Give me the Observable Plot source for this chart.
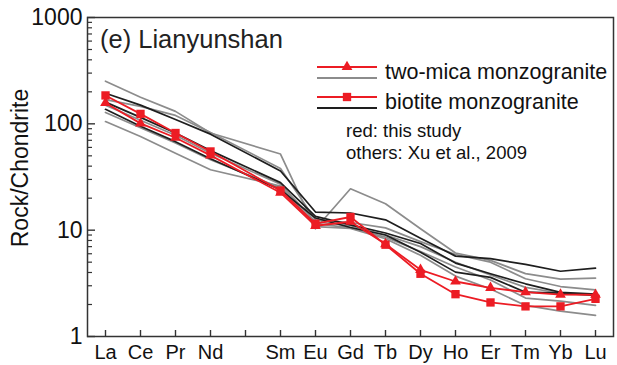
<!DOCTYPE html>
<html><head><meta charset="utf-8">
<script src="https://cdn.jsdelivr.net/npm/d3@7"></script>
<script src="https://cdn.jsdelivr.net/npm/@observablehq/plot@0.6"></script>
<style>
body{margin:0;background:#fff;}
#chart svg{display:block;}
</style>
</head><body><div id="chart"></div>
<script>
// REE elements (Pm is an empty slot on the axis)
const elements = ["La","Ce","Pr","Nd","Sm","Eu","Gd","Tb","Dy","Ho","Er","Tm","Yb","Lu"];
const axisSlots = ["La","Ce","Pr","Nd","Pm","Sm","Eu","Gd","Tb","Dy","Ho","Er","Tm","Yb","Lu"];
const yTickValues = [1, 10, 100, 1000];

// this study (red)
const twoMicaThisStudy = [157, 101, 74, 50.5, 22.5, 11.0, 12.0, 7.4, 4.24, 3.29, 2.87, 2.61, 2.48, 2.47];
const biotiteThisStudy = [185, 124, 82, 55, 23.6, 11.5, 13.3, 7.3, 3.89, 2.5, 2.09, 1.92, 1.92, 2.26];

// Xu et al., 2009 – two-mica monzogranite (gray)
const xuTwoMica1 = [252, 178, 131, 82, 52, 10.3, 24.5, 17.7, 10.3, 6.1, 5.2, 3.9, 3.46, 3.54];
const xuTwoMica2 = [169, 146, 120, 83, 38, 12.5, 11.8, 10.5, 7.8, 5.9, 5.0, 3.49, 2.95, 2.75];
const xuTwoMica3 = [150, 108, 78, 53, 27, 12.0, 11.0, 9.0, 7.0, 5.0, 3.8, 2.9, 2.55, 2.5];
const xuTwoMica4 = [128, 92, 66, 46, 25, 11.5, 10.5, 8.6, 6.3, 4.5, 3.4, 2.3, 2.15, 1.96];
const xuTwoMica5 = [105, 76, 53, 37, 26, 10.8, 10.4, 8.3, 5.8, 3.7, 2.8, 1.96, 1.73, 1.58];

// Xu et al., 2009 – biotite monzogranite (black)
const xuBiotite1 = [194, 150, 110, 80, 36, 14.8, 14.5, 12.5, 8.4, 5.7, 5.4, 4.76, 4.11, 4.39];
const xuBiotite2 = [137, 95, 68, 47, 24, 13.0, 10.6, 9.0, 6.2, 4.03, 3.6, 2.61, 2.56, 2.43];
const xuBiotite3 = [160, 115, 82, 56, 28, 13.5, 11.2, 9.4, 7.5, 4.9, 3.89, 3.13, 2.6, 2.5];

const toRows = (arrs) => arrs.flatMap((vals, i) => vals.map((v, j) => ({id: i, el: elements[j], v})));
const grayRows = toRows([xuTwoMica1, xuTwoMica2, xuTwoMica3, xuTwoMica4, xuTwoMica5]);
const blackRows = toRows([xuBiotite1, xuBiotite2, xuBiotite3]);
const triRows = toRows([twoMicaThisStudy]);
const sqRows = toRows([biotiteThisStudy]);

const W = 617, H = 365, mL = 87, mR = 4, mT = 17, mB = 29;
const plotW = W - mL - mR, plotH = H - mT - mB;
const FONT = "'Liberation Sans', Arial, Helvetica, sans-serif";
const RED = "#ec1c24", GRAY = "#8c8c8c", BLACK = "#1e1e1e", AXIS = "#333";
const minorTicks = [1, 10, 100].flatMap(d => d3.range(2, 10).map(m => m * d));

const chart = Plot.plot({
  width: W, height: H,
  marginLeft: mL, marginRight: mR, marginTop: mT, marginBottom: mB,
  style: {fontFamily: FONT, background: "#fff", color: "#111"},
  x: {type: "point", domain: axisSlots, padding: 0.5},
  y: {type: "log", domain: [1, 1000]},
  marks: [
    Plot.axisX({tickSize: 0, tickPadding: 8, fontSize: 20, label: null,
      tickFormat: d => d === "Pm" ? "" : d}),
    Plot.axisY({ticks: yTickValues, tickSize: 0, tickPadding: 5, fontSize: 23, label: null,
      tickFormat: d => String(d)}),
    Plot.ruleX(axisSlots, {x: d => d, insetTop: plotH - 6, stroke: AXIS, strokeWidth: 1.4}),
    Plot.ruleY(minorTicks, {y: d => d, insetRight: plotW - 5, stroke: AXIS, strokeWidth: 1.2}),
    Plot.ruleY(yTickValues, {y: d => d, insetRight: plotW - 8, stroke: AXIS, strokeWidth: 1.4}),
    Plot.line(grayRows, {x: "el", y: "v", z: "id", stroke: GRAY, strokeWidth: 1.7}),
    Plot.line(blackRows, {x: "el", y: "v", z: "id", stroke: BLACK, strokeWidth: 1.7}),
    Plot.line(triRows, {x: "el", y: "v", stroke: RED, strokeWidth: 1.8}),
    Plot.line(sqRows, {x: "el", y: "v", stroke: RED, strokeWidth: 1.8}),
    Plot.dot(triRows, {x: "el", y: "v", symbol: "triangle", r: 4, fill: RED, stroke: "none"}),
    Plot.dot(sqRows, {x: "el", y: "v", symbol: "square", r: 4.7, fill: RED, stroke: "none"}),
    Plot.frame({stroke: AXIS, strokeWidth: 1.5})
  ]
});
document.getElementById("chart").append(chart);

const svg = d3.select(chart);
// title inside plot
svg.append("text").attr("x", 100).attr("y", 48).attr("font-size", 25.5)
  .attr("text-anchor", "start").attr("font-family", FONT).attr("fill", "#222")
  .text("(e) Lianyunshan");
// y label
svg.append("text").attr("transform", "translate(28,168) rotate(-90)")
  .attr("text-anchor", "middle").attr("font-size", 23).attr("font-family", FONT)
  .attr("fill", "#111").text("Rock/Chondrite");

// legend
const lg = svg.append("g").attr("font-family", FONT).attr("fill", "#111").attr("text-anchor", "start");
const lx1 = 317, lx2 = 377, lmx = 347;
const legendRows = [
  {y: 67, stroke: RED, symbol: d3.symbolTriangle, r: 4},
  {y: 78, stroke: GRAY},
  {y: 97, stroke: RED, symbol: d3.symbolSquare, r: 4.7},
  {y: 108, stroke: BLACK}
];
legendRows.forEach(r => {
  lg.append("line").attr("x1", lx1).attr("x2", lx2).attr("y1", r.y).attr("y2", r.y)
    .attr("stroke", r.stroke).attr("stroke-width", 1.8);
  if (r.symbol) lg.append("path").attr("transform", `translate(${lmx},${r.y})`)
    .attr("d", d3.symbol(r.symbol, Math.PI * r.r * r.r)()).attr("fill", RED);
});
lg.append("text").attr("x", 385).attr("y", 79).attr("font-size", 21.5).text("two-mica monzogranite");
lg.append("text").attr("x", 385).attr("y", 109).attr("font-size", 21.5).text("biotite monzogranite");
lg.append("text").attr("x", 346).attr("y", 137).attr("font-size", 18.5).text("red: this study");
lg.append("text").attr("x", 346).attr("y", 159).attr("font-size", 18.5).text("others: Xu et al., 2009");
</script></body></html>
